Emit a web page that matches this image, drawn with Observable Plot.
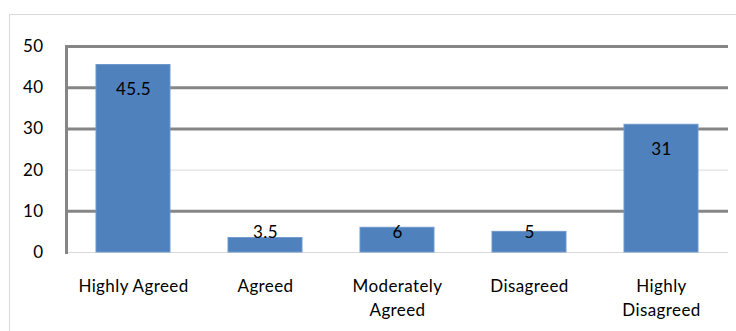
<!DOCTYPE html>
<html>
<head>
<meta charset="utf-8">
<script src="https://cdn.jsdelivr.net/npm/d3@7"></script>
<script src="https://cdn.jsdelivr.net/npm/@observablehq/plot@0.6"></script>
<style>
  html, body { margin: 0; padding: 0; background: #fff; overflow: hidden; }
  #wrap { position: relative; width: 736px; height: 331px; }
  #border { position: absolute; left: 9px; top: 14px; width: 760px; height: 360px; border: 1px solid #d9d9d9; box-sizing: border-box; }
  #chart { position: absolute; left: 0; top: 0; }
</style>
</head>
<body>
<div id="wrap"><div id="border"></div><div id="chart"></div></div>
<script>
const categories = ["Highly Agreed", "Agreed", "Moderately Agreed", "Disagreed", "Highly Disagreed"];
const tickLabels = ["Highly Agreed", "Agreed", "Moderately\nAgreed", "Disagreed", "Highly\nDisagreed"];
const values = [45.5, 3.5, 6, 5, 31];
const valueLabels = ["45.5", "3.5", "6", "5", "31"];
const yTicks = [0, 10, 20, 30, 40, 50];
const thickGrid = [10, 30, 40, 50];
const thinGrid = [0, 20];

const data = categories.map((c, i) => ({cat: c, value: values[i], label: valueLabels[i]}));
const big = data.filter(d => d.value >= 10);
const small = data.filter(d => d.value < 10);

const font = "Lato, 'Open Sans', sans-serif";

const chart = Plot.plot({
  width: 736,
  height: 331,
  marginLeft: 66,
  marginRight: 8,
  marginTop: 46,
  marginBottom: 79,
  style: {fontFamily: font, fontSize: "17px", color: "#000", background: "transparent", letterSpacing: "0.4px"},
  x: {domain: categories, paddingInner: 0.44, paddingOuter: 0.22, label: null},
  y: {domain: [0, 50], label: null},
  marks: [
    Plot.ruleY(thinGrid, {stroke: "#d9d9d9", strokeWidth: 1}),
    Plot.ruleY(thickGrid, {stroke: "#868686", strokeWidth: 3}),
    Plot.frame({anchor: "left", stroke: "#868686", strokeWidth: 3}),
    Plot.barY(data, {x: "cat", y: "value", fill: "#4f81bd", stroke: "#6f97cb", strokeWidth: 1}),
    Plot.text(big, {x: "cat", y: "value", text: "label", dy: 25, fill: "#000", fontSize: 17}),
    Plot.text(small, {x: "cat", y: 0, text: "label", dy: -20, fill: "#000", fontSize: 17}),
    Plot.axisY({ticks: yTicks, tickSize: 0, tickPadding: 23, fontSize: 17, fill: "#000", label: null}),
    Plot.axisX({tickSize: 0, tickPadding: 23, fontSize: 17, fill: "#000", lineHeight: 1.4, label: null,
      tickFormat: c => tickLabels[categories.indexOf(c)]})
  ]
});
document.getElementById("chart").appendChild(chart);
</script>
</body>
</html>
